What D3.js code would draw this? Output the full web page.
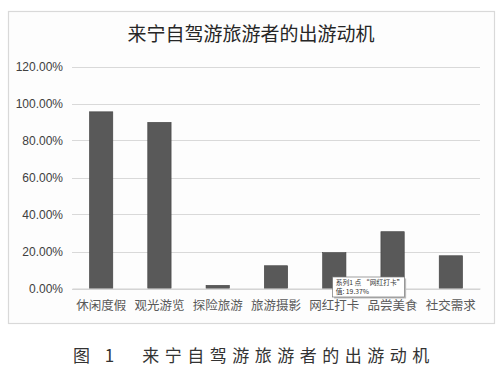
<!DOCTYPE html>
<html><head><meta charset="utf-8">
<script src="https://cdn.jsdelivr.net/npm/d3@7"></script>
<style>body{margin:0;background:#fff;}svg{display:block;}</style>
</head><body>
<script>
const categories = ["休闲度假","观光游览","探险旅游","旅游摄影","网红打卡","品尝美食","社交需求"];
const values = [0.955, 0.898, 0.017, 0.123, 0.1937, 0.307, 0.177];
const yTicks = [0, 0.2, 0.4, 0.6, 0.8, 1.0, 1.2];
const chartTitle = "来宁自驾游旅游者的出游动机";
const caption = "图 1　来宁自驾游旅游者的出游动机";
const tooltipLines = ["系列1 点 “网红打卡”", "值: 19.37%"];

const W = 500, H = 380;
const svg = d3.select("body").append("svg").attr("width", W).attr("height", H);
svg.append("rect").attr("x",8.5).attr("y",11.5).attr("width",486).attr("height",312)
  .attr("fill","#fdfdfd").attr("stroke","#d9d9d9").attr("stroke-width",1.2);

const m = {left:72, right:480, top:66.5, bottom:288.5};
const x = d3.scaleBand().domain(categories).range([m.left, m.right]).paddingInner(0.6).paddingOuter(0.3);
const y = d3.scaleLinear().domain([0,1.2]).range([m.bottom, m.top]);

svg.append("text").attr("x",251).attr("y",41).attr("text-anchor","middle")
  .attr("font-family","'Noto Sans CJK SC'").attr("font-size",19).attr("fill","#262626").text(chartTitle);

// gridlines
svg.append("g").selectAll("line").data(yTicks).join("line")
  .attr("x1",m.left).attr("x2",m.right)
  .attr("y1",d=>Math.round(y(d))+0.5).attr("y2",d=>Math.round(y(d))+0.5)
  .attr("stroke","#d9d9d9").attr("stroke-width",1);

// y axis labels
const yAxis = d3.axisLeft(y).tickValues(yTicks).tickSize(0).tickPadding(0)
  .tickFormat(d=>(d*100).toFixed(2)+"%");
const yg = svg.append("g").attr("transform",`translate(${m.left-9},0)`).call(yAxis);
yg.select(".domain").remove();
yg.selectAll("text").attr("font-family","'Liberation Sans'").attr("font-size",12).attr("fill","#404040");

// bars
svg.append("g").selectAll("rect").data(values).join("rect")
  .attr("x",(d,i)=>x(categories[i])).attr("width",x.bandwidth())
  .attr("y",d=>y(d)).attr("height",d=>y(0)-y(d))
  .attr("fill","#595959").attr("stroke","#404040").attr("stroke-width",0.6);

// x axis
const xAxis = d3.axisBottom(x).tickSize(0).tickPadding(13);
const xg = svg.append("g").attr("transform",`translate(0,${m.bottom})`).call(xAxis);
xg.select(".domain").attr("stroke","#d0d0d0");
xg.selectAll("text").attr("font-family","'Noto Sans CJK SC'").attr("font-size",12.5).attr("fill","#595959");

// tooltip
const tx = x(categories[4]) + 10, ty = 277;
const tip = svg.append("g");
tip.append("rect").attr("x",tx+1.5).attr("y",ty+1.5).attr("width",72).attr("height",20).attr("fill","#bbb");
tip.append("rect").attr("x",tx).attr("y",ty).attr("width",72).attr("height",20).attr("fill","#fff").attr("stroke","#777").attr("stroke-width",0.7);
tip.selectAll("text").data(tooltipLines).join("text")
  .attr("x",tx+3).attr("y",(d,i)=>ty+8+i*8.5).attr("font-family","'Noto Sans CJK SC'").attr("font-size",6.8).attr("fill","#333").text(d=>d);

// caption
svg.append("text").attr("x",73).attr("y",362)
  .attr("font-family","'Noto Sans CJK SC'").attr("font-size",17).attr("letter-spacing",5.5).attr("fill","#333")
  .attr("font-weight",400).text(caption);
</script>
</body></html>
